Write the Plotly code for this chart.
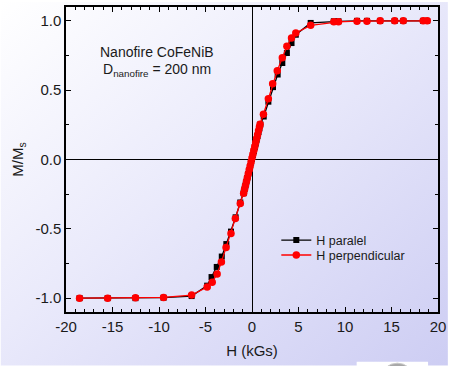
import base64
import plotly.graph_objects as go

# ---- data ----
h_paralel = [-18.54, -15.52, -12.53, -9.51, -6.49, -4.82, -4.35, -3.79, -3.25, -2.76, -2.26, -1.76, -1.26,
             -0.9, -0.8, -0.7, -0.6, -0.5, -0.4, -0.3, -0.2, -0.1, 0.0, 0.1, 0.2, 0.3, 0.4, 0.5, 0.6, 0.7, 0.8, 0.9,
             1.26, 1.76, 2.26, 2.76, 3.26, 3.75, 4.25, 4.71, 6.31, 8.8, 9.3, 11.29, 12.36, 13.78, 15.34, 16.27, 18.4, 18.84]
m_paralel = [-1.0, -1.0, -1.0, -0.997, -0.985, -0.91, -0.848, -0.775, -0.70, -0.61, -0.52, -0.417, -0.31,
             -0.243, -0.215, -0.188, -0.160, -0.133, -0.105, -0.078, -0.050, -0.023, 0.005, 0.033, 0.060, 0.088,
             0.115, 0.143, 0.170, 0.198, 0.225, 0.253,
             0.31, 0.417, 0.522, 0.613, 0.696, 0.768, 0.84, 0.9, 0.985, 0.997, 0.997, 1.0, 1.0, 1.0, 1.0, 1.0, 1.0, 1.0]

h_perp = [-18.54, -15.52, -12.53, -9.51, -6.49, -4.82, -4.28, -3.75, -3.29, -2.79, -2.26, -1.79, -1.26,
          -0.9, -0.8, -0.7, -0.6, -0.5, -0.4, -0.3, -0.2, -0.1, 0.0, 0.1, 0.2, 0.3, 0.4, 0.5, 0.6, 0.7, 0.8, 0.87,
          1.23, 1.76, 2.22, 2.72, 3.26, 3.75, 4.25, 4.71, 6.31, 8.8, 9.3, 11.29, 12.36, 13.78, 15.34, 16.27, 18.4, 18.84]
m_perp = [-1.0, -1.0, -0.998, -0.995, -0.978, -0.92, -0.885, -0.825, -0.74, -0.635, -0.534, -0.426, -0.318,
          -0.243, -0.215, -0.187, -0.159, -0.131, -0.102, -0.074, -0.046, -0.018, 0.010, 0.038, 0.066, 0.094,
          0.122, 0.151, 0.179, 0.207, 0.235, 0.254,
          0.326, 0.438, 0.546, 0.64, 0.734, 0.817, 0.877, 0.913, 0.968, 0.993, 0.993, 0.998, 0.998, 1.0, 1.0, 1.0, 1.0, 1.0]

x_ticks = [-20, -15, -10, -5, 0, 5, 10, 15, 20]
y_ticks = [-1.0, -0.5, 0.0, 0.5, 1.0]
y_tick_labels = ["-1.0", "-0.5", "0.0", "0.5", "1.0"]

FONT = "Liberation Sans, Arial, sans-serif"
TXT = "#1a1a1a"

W, H = 451, 366
ML, MR, MT, MB = 66, 10, 5, 54
PW, PH = W - ML - MR, H - MT - MB


def px_to_paper_x(px):
    return (px - ML) / PW


def py_to_paper_y(py):
    return (H - MB - py) / PH


fig = go.Figure()
fig.add_trace(go.Scatter(
    x=h_paralel, y=m_paralel, mode="lines+markers", name="H paralel",
    line=dict(color="black", width=1.3),
    marker=dict(symbol="square", size=6, color="black"),
    legend="legend",
))
fig.add_trace(go.Scatter(
    x=h_perp, y=m_perp, mode="lines+markers", name="H perpendicular",
    line=dict(color="#ff0000", width=1.3),
    marker=dict(symbol="circle", size=7.5, color="#ff0000"),
    legend="legend2",
))

# background gradient as an inline SVG image
svg = ('<svg xmlns="http://www.w3.org/2000/svg" width="451" height="366" preserveAspectRatio="none">'
       '<defs><linearGradient id="g" x1="0" y1="0" x2="1" y2="1">'
       '<stop offset="0" stop-color="#ffffff"/><stop offset="0.45" stop-color="#eaeafb"/>'
       '<stop offset="1" stop-color="#cdcdf3"/></linearGradient></defs>'
       '<rect width="451" height="366" fill="url(#g)"/></svg>')
src = "data:image/svg+xml;base64," + base64.b64encode(svg.encode()).decode()
fig.add_layout_image(dict(
    source=src, xref="paper", yref="paper",
    x=px_to_paper_x(0), y=py_to_paper_y(0),
    sizex=W / PW, sizey=H / PH, sizing="stretch",
    xanchor="left", yanchor="top", layer="below",
))

# small white box at bottom with a grey dome
fig.add_shape(type="rect", xref="paper", yref="paper",
              x0=px_to_paper_x(359), x1=px_to_paper_x(431),
              y0=py_to_paper_y(368), y1=py_to_paper_y(362),
              fillcolor="white", line=dict(width=0), layer="above")
fig.add_shape(type="circle", xref="paper", yref="paper",
              x0=px_to_paper_x(384), x1=px_to_paper_x(416),
              y0=py_to_paper_y(392), y1=py_to_paper_y(363.5),
              fillcolor="#a8a8a8", line=dict(color="#c8c8c8", width=1), layer="above")

axis_common = dict(
    showgrid=False, zeroline=True, zerolinecolor="black", zerolinewidth=1.2,
    showline=True, linecolor="black", linewidth=1.5, mirror="ticks",
    ticks="inside", ticklen=5, tickwidth=1, tickcolor="black",
    tickfont=dict(family=FONT, size=15, color=TXT),
)

fig.update_xaxes(
    **axis_common,
    range=[-20, 20], tickmode="array", tickvals=x_ticks, ticktext=[str(v) for v in x_ticks],
    minor=dict(dtick=1, ticks="inside", ticklen=3, tickcolor="black", tickwidth=1, showgrid=False),
    title=dict(text="H (kGs)", font=dict(family=FONT, size=15, color=TXT), standoff=12),
)
fig.update_yaxes(
    **axis_common,
    range=[-1.1, 1.1], tickmode="array", tickvals=y_ticks, ticktext=y_tick_labels,
    minor=dict(dtick=0.25, tick0=0, ticks="inside", ticklen=3, tickcolor="black", tickwidth=1, showgrid=False),
    title=dict(text="M/M<sub>s</sub>", font=dict(family=FONT, size=15, color=TXT), standoff=8),
)

fig.add_annotation(text="Nanofire CoFeNiB", xref="paper", yref="paper",
                   x=px_to_paper_x(158), y=py_to_paper_y(50), showarrow=False,
                   font=dict(family=FONT, size=14, color=TXT), xanchor="center", yanchor="middle")
fig.add_annotation(text="D<sub>nanofire</sub> = 200 nm", xref="paper", yref="paper",
                   x=px_to_paper_x(158), y=py_to_paper_y(68), showarrow=False,
                   font=dict(family=FONT, size=14, color=TXT), xanchor="center", yanchor="middle")

legend_common = dict(xanchor="left", yanchor="middle", bgcolor="rgba(0,0,0,0)", borderwidth=0,
                     font=dict(family=FONT, size=12.5, color=TXT), itemwidth=30)

fig.update_layout(
    width=W, height=H,
    margin=dict(l=ML, r=MR, t=MT, b=MB),
    paper_bgcolor="white", plot_bgcolor="rgba(0,0,0,0)",
    showlegend=True,
    legend=dict(x=px_to_paper_x(278), y=py_to_paper_y(240), **legend_common),
    legend2=dict(x=px_to_paper_x(278), y=py_to_paper_y(255), **legend_common),
)

fig.write_html("out.html")
